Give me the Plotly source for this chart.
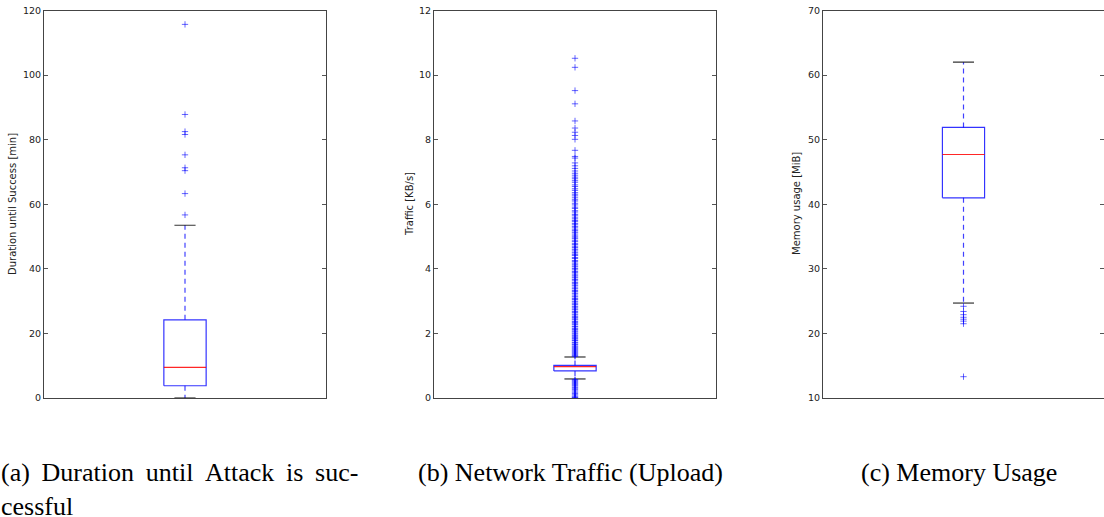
import plotly.graph_objects as go

# ---------------- data ----------------
# box stats: [lower whisker, Q1, median, Q3, upper whisker]
duration_box = [0.0, 3.8, 9.5, 24.2, 53.5]
duration_outliers = [115.7, 87.8, 82.5, 81.6, 75.3, 71.3, 70.4, 63.3, 56.7]

traffic_box = [0.59, 0.84, 0.97, 1.01, 1.27]
traffic_outliers = [
    10.52, 10.24, 9.52, 9.11, 8.58, 8.36, 8.23, 8.13, 8.01, 7.67, 7.48, 7.43,
    7.28, 7.19, 7.11, 7.03, 6.96, 6.90, 6.84, 6.79, 6.73, 6.68, 6.60, 6.55,
    6.48, 6.43, 6.36, 6.31, 6.26, 6.20, 6.14, 6.10, 6.03, 5.98, 5.91, 5.87,
    5.80, 5.76, 5.69, 5.66, 5.60, 5.55, 5.50, 5.47, 5.41, 5.38, 5.32, 5.29,
    5.23, 5.19, 5.14, 5.11, 5.05, 5.01, 4.96, 4.93, 4.87, 4.84, 4.78, 4.75,
    4.70, 4.66, 4.61, 4.58, 4.52, 4.49, 4.44, 4.41, 4.35, 4.32, 4.26, 4.23,
    4.18, 4.14, 4.09, 4.06, 4.01, 3.97, 3.92, 3.89, 3.84, 3.80, 3.75, 3.72,
    3.67, 3.63, 3.58, 3.55, 3.50, 3.47, 3.41, 3.38, 3.33, 3.30, 3.25, 3.22,
    3.16, 3.13, 3.08, 3.05, 3.00, 2.97, 2.92, 2.89, 2.84, 2.81, 2.76, 2.73,
    2.68, 2.65, 2.60, 2.57, 2.52, 2.49, 2.45, 2.42, 2.37, 2.34, 2.30, 2.27,
    2.22, 2.20, 2.15, 2.12, 2.08, 2.05, 2.01, 1.98, 1.94, 1.91, 1.87, 1.84,
    1.80, 1.78, 1.73, 1.71, 1.67, 1.65, 1.61, 1.58, 1.55, 1.52, 1.49, 1.46,
    1.43, 1.40, 1.37, 1.34, 1.31, 1.29,
    0.57, 0.55, 0.52, 0.49, 0.46, 0.43, 0.40, 0.37, 0.33, 0.30, 0.26, 0.22,
    0.18, 0.14, 0.10, 0.06, 0.03, 0.01, 0.0,
]

memory_box = [24.7, 41.0, 47.7, 51.9, 62.0]
memory_outliers = [24.2, 23.4, 22.9, 22.5, 22.2, 21.9, 21.5, 13.3]

y_titles = ["Duration until Success [min]", "Traffic [KB/s]", "Memory usage [MiB]"]
y_ranges = [[0, 120], [0, 12], [10, 70]]
y_dticks = [20, 2, 10]
captions = ["(b) Network Traffic (Upload)", "(c) Memory Usage"]
caption_a = ["(a) Duration until Attack is suc-", "cessful"]

# ---------------- layout geometry ----------------
W, H = 1104, 517
x_domains = [[44 / W, 326 / W], [434 / W, 716 / W], [823 / W, 1.0]]
y_domain = [1 - 398 / H, 1 - 10.5 / H]
title_x = [13, 410, 797]

BOX_HALF = 0.075
CAP_HALF = 0.0375

fig = go.Figure()
panels = [
    (duration_box, duration_outliers),
    (traffic_box, traffic_outliers),
    (memory_box, memory_outliers),
]

for i, (stats, outl) in enumerate(panels):
    lo, q1, med, q3, hi = stats
    xa = "x" if i == 0 else f"x{i+1}"
    ya = "y" if i == 0 else f"y{i+1}"
    common = dict(xaxis=xa, yaxis=ya, showlegend=False, hoverinfo="skip", mode="lines")
    # whiskers (dashed)
    fig.add_trace(go.Scatter(x=[1, 1, None, 1, 1], y=[q3, hi, None, q1, lo],
                             line=dict(color="rgba(0,0,255,0.75)", width=1.2, dash="5px,4px"), **common))
    # box
    fig.add_trace(go.Scatter(x=[1 - BOX_HALF, 1 + BOX_HALF, 1 + BOX_HALF, 1 - BOX_HALF, 1 - BOX_HALF],
                             y=[q1, q1, q3, q3, q1],
                             line=dict(color="rgba(0,0,255,0.8)", width=1.2), **common))
    # median
    fig.add_trace(go.Scatter(x=[1 - BOX_HALF, 1 + BOX_HALF], y=[med, med],
                             line=dict(color="rgba(255,0,0,0.85)", width=1.2), **common))
    # caps
    fig.add_trace(go.Scatter(x=[1 - CAP_HALF, 1 + CAP_HALF, None, 1 - CAP_HALF, 1 + CAP_HALF],
                             y=[hi, hi, None, lo, lo],
                             line=dict(color="rgba(0,0,0,0.8)", width=1.2), **common))
    # outliers
    fig.add_trace(go.Scatter(x=[1] * len(outl), y=outl, mode="markers",
                             marker=dict(symbol="cross-thin", size=4.5,
                                         line=dict(color="rgba(0,0,255,0.6)", width=1)),
                             xaxis=xa, yaxis=ya, showlegend=False, hoverinfo="skip"))

    axis_common = dict(showline=True, linecolor="#444444", linewidth=1, mirror=True,
                       showgrid=False, zeroline=False, automargin=False)
    fig.layout[f"xaxis{'' if i == 0 else i+1}"] = dict(
        domain=x_domains[i], range=[0.5, 1.5], showticklabels=False, ticks="",
        anchor=ya, fixedrange=True, **axis_common)
    fig.layout[f"yaxis{'' if i == 0 else i+1}"] = dict(
        domain=y_domain, range=y_ranges[i], dtick=y_dticks[i], tick0=y_ranges[i][0],
        ticks="inside", ticklen=4, tickcolor="#555555", tickwidth=1,
        tickfont=dict(family="DejaVu Sans", size=9.5, color="#222222"),
        anchor=xa, fixedrange=True, **{**axis_common, "mirror": "allticks"})

    fig.add_annotation(text=y_titles[i], xref="paper", yref="paper",
                       x=title_x[i] / W, y=1 - 204 / H, xanchor="center", yanchor="middle",
                       textangle=-90, showarrow=False,
                       font=dict(family="DejaVu Sans", size=10, color="#222222"))

cap_font = dict(family="Liberation Serif", size=26, color="#000000")
# caption (a): two lines; first line justified in the reference -> slightly wider word gaps
fig.add_annotation(text=caption_a[0].replace(" ", " \u2009") + "<br>" + caption_a[1],
                   xref="paper", yref="paper", x=0, y=1 - 457 / H,
                   xanchor="left", yanchor="top", align="left", showarrow=False,
                   font=cap_font, borderpad=0)
for cx, txt in zip([570, 959], captions):
    fig.add_annotation(text=txt, xref="paper", yref="paper", x=cx / W, y=1 - 457 / H,
                       xanchor="center", yanchor="top", showarrow=False, font=cap_font,
                       borderpad=0)

fig.update_layout(width=W, height=H, autosize=False,
                  margin=dict(l=0, r=0, t=0, b=0, autoexpand=False),
                  paper_bgcolor="white", plot_bgcolor="white")

fig.write_html(
    "out.html",
    config={"displayModeBar": False, "staticPlot": True},
    post_script=(
        "document.documentElement.style.margin='0';"
        "document.body.style.margin='0';document.body.style.overflow='hidden';"
        "var d=document.getElementById('{plot_id}');"
        "d.style.position='fixed';d.style.top='0px';d.style.left='0px';"
    ),
)
